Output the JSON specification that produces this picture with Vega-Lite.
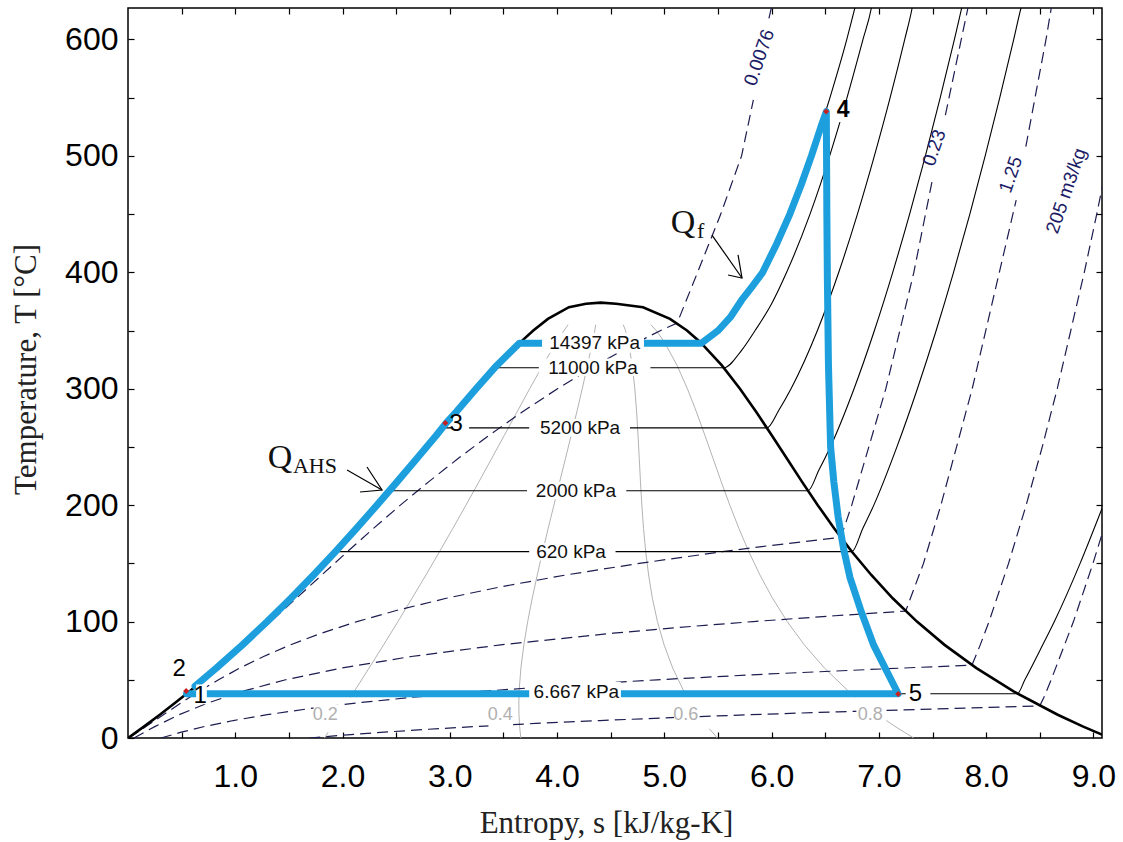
{
"$schema":"https://vega.github.io/schema/vega-lite/v6.json",
"width":974,"height":730,
"autosize":{"type":"none"},
"padding":{"left":128,"top":8,"right":21,"bottom":104},
"background":"white",
"config":{"view":{"stroke":"black","strokeWidth":1.5},"axis":{"grid":false,"domain":false,"tickColor":"black","tickWidth":1.2,"tickSize":-6}},
"datasets":{
"lines":[
{"k":"q","g":"q2a","s":1.8311,"T":0.01},{"k":"q","g":"q2a","s":1.866,"T":5},
{"k":"q","g":"q2b","s":2.075,"T":35},{"k":"q","g":"q2b","s":2.109,"T":40},{"k":"q","g":"q2b","s":2.2469,"T":60},{"k":"q","g":"q2b","s":2.3827,"T":80},{"k":"q","g":"q2b","s":2.5165,"T":100},{"k":"q","g":"q2b","s":2.6481,"T":120},{"k":"q","g":"q2b","s":2.7772,"T":140},{"k":"q","g":"q2b","s":2.9038,"T":160},{"k":"q","g":"q2b","s":3.0282,"T":180},{"k":"q","g":"q2b","s":3.1504,"T":200},{"k":"q","g":"q2b","s":3.271,"T":220},{"k":"q","g":"q2b","s":3.3901,"T":240},{"k":"q","g":"q2b","s":3.5081,"T":260},{"k":"q","g":"q2b","s":3.6262,"T":280},{"k":"q","g":"q2b","s":3.7448,"T":300},{"k":"q","g":"q2b","s":3.8656,"T":320},{"k":"q","g":"q2b","s":3.9947,"T":340},{"k":"q","g":"q2b","s":4.0649,"T":350},{"k":"q","g":"q2b","s":4.103,"T":355},
{"k":"q","g":"q4","s":3.6622,"T":0.01},{"k":"q","g":"q4","s":3.6506,"T":10},{"k":"q","g":"q4","s":3.6448,"T":20},{"k":"q","g":"q4","s":3.6435,"T":30},{"k":"q","g":"q4","s":3.6457,"T":40},{"k":"q","g":"q4","s":3.6626,"T":60},{"k":"q","g":"q4","s":3.6901,"T":80},{"k":"q","g":"q4","s":3.7261,"T":100},{"k":"q","g":"q4","s":3.7683,"T":120},{"k":"q","g":"q4","s":3.8152,"T":140},{"k":"q","g":"q4","s":3.8651,"T":160},{"k":"q","g":"q4","s":3.9171,"T":180},{"k":"q","g":"q4","s":3.9704,"T":200},{"k":"q","g":"q4","s":4.0242,"T":220},{"k":"q","g":"q4","s":4.0782,"T":240},{"k":"q","g":"q4","s":4.1313,"T":260},{"k":"q","g":"q4","s":4.1839,"T":280},{"k":"q","g":"q4","s":4.2348,"T":300},{"k":"q","g":"q4","s":4.2833,"T":320},{"k":"q","g":"q4","s":4.3299,"T":340},{"k":"q","g":"q4","s":4.3514,"T":350},{"k":"q","g":"q4","s":4.36,"T":355},
{"k":"q","g":"q6a","s":5.4933,"T":0.01},{"k":"q","g":"q6a","s":5.42,"T":8},
{"k":"q","g":"q6b","s":5.19,"T":38},{"k":"q","g":"q6b","s":5.1823,"T":40},{"k":"q","g":"q6b","s":5.0782,"T":60},{"k":"q","g":"q6b","s":4.9974,"T":80},{"k":"q","g":"q6b","s":4.9357,"T":100},{"k":"q","g":"q6b","s":4.8885,"T":120},{"k":"q","g":"q6b","s":4.8533,"T":140},{"k":"q","g":"q6b","s":4.8263,"T":160},{"k":"q","g":"q6b","s":4.8061,"T":180},{"k":"q","g":"q6b","s":4.7903,"T":200},{"k":"q","g":"q6b","s":4.7775,"T":220},{"k":"q","g":"q6b","s":4.7663,"T":240},{"k":"q","g":"q6b","s":4.7546,"T":260},{"k":"q","g":"q6b","s":4.7417,"T":280},{"k":"q","g":"q6b","s":4.7249,"T":300},{"k":"q","g":"q6b","s":4.7009,"T":320},{"k":"q","g":"q6b","s":4.6652,"T":340},{"k":"q","g":"q6b","s":4.638,"T":350},{"k":"q","g":"q6b","s":4.617,"T":355},
{"k":"q","g":"q8a","s":7.3244,"T":0.01},{"k":"q","g":"q8a","s":7.237,"T":5},{"k":"q","g":"q8a","s":7.1501,"T":10},{"k":"q","g":"q8a","s":7.07,"T":15},
{"k":"q","g":"q8b","s":6.78,"T":35},{"k":"q","g":"q8b","s":6.719,"T":40},{"k":"q","g":"q8b","s":6.4939,"T":60},{"k":"q","g":"q8b","s":6.3048,"T":80},{"k":"q","g":"q8b","s":6.1453,"T":100},{"k":"q","g":"q8b","s":6.0087,"T":120},{"k":"q","g":"q8b","s":5.8913,"T":140},{"k":"q","g":"q8b","s":5.7876,"T":160},{"k":"q","g":"q8b","s":5.695,"T":180},{"k":"q","g":"q8b","s":5.6103,"T":200},{"k":"q","g":"q8b","s":5.5307,"T":220},{"k":"q","g":"q8b","s":5.4544,"T":240},{"k":"q","g":"q8b","s":5.3778,"T":260},{"k":"q","g":"q8b","s":5.2994,"T":280},{"k":"q","g":"q8b","s":5.2149,"T":300},{"k":"q","g":"q8b","s":5.1186,"T":320},{"k":"q","g":"q8b","s":5.0004,"T":340},{"k":"q","g":"q8b","s":4.9245,"T":350},{"k":"q","g":"q8b","s":4.874,"T":355},

{"k":"v","g":"v1a","s":0,"T":0.01},{"k":"v","g":"v1a","s":0.2976,"T":20},{"k":"v","g":"v1a","s":0.575,"T":40},{"k":"v","g":"v1a","s":0.8373,"T":60},{"k":"v","g":"v1a","s":1.0878,"T":80},{"k":"v","g":"v1a","s":1.3307,"T":100},{"k":"v","g":"v1a","s":1.569,"T":120},{"k":"v","g":"v1a","s":1.806,"T":140},{"k":"v","g":"v1a","s":2.045,"T":160},{"k":"v","g":"v1a","s":2.288,"T":180},{"k":"v","g":"v1a","s":2.539,"T":200},{"k":"v","g":"v1a","s":2.802,"T":220},{"k":"v","g":"v1a","s":3.077,"T":240},{"k":"v","g":"v1a","s":3.366,"T":260},{"k":"v","g":"v1a","s":3.675,"T":280},{"k":"v","g":"v1a","s":4.004,"T":300},{"k":"v","g":"v1a","s":4.358,"T":320},{"k":"v","g":"v1a","s":4.75,"T":340},{"k":"v","g":"v1a","s":4.966,"T":350},{"k":"v","g":"v1a","s":5.12,"T":356.5},{"k":"v","g":"v1a","s":5.31,"T":400},{"k":"v","g":"v1a","s":5.526,"T":450},{"k":"v","g":"v1a","s":5.72,"T":500},{"k":"v","g":"v1a","s":5.83,"T":548},
{"k":"v","g":"v1b","s":5.975,"T":618},{"k":"v","g":"v1b","s":6.01,"T":632},
{"k":"v","g":"v2a","s":0.01,"T":0.01},{"k":"v","g":"v2a","s":0.17,"T":10},{"k":"v","g":"v2a","s":0.33,"T":20},{"k":"v","g":"v2a","s":0.493,"T":30},{"k":"v","g":"v2a","s":0.66,"T":40},{"k":"v","g":"v2a","s":0.844,"T":50},{"k":"v","g":"v2a","s":1.04,"T":60},{"k":"v","g":"v2a","s":1.264,"T":70},{"k":"v","g":"v2a","s":1.515,"T":80},{"k":"v","g":"v2a","s":1.803,"T":90},{"k":"v","g":"v2a","s":2.135,"T":100},{"k":"v","g":"v2a","s":2.52,"T":110},{"k":"v","g":"v2a","s":2.967,"T":120},{"k":"v","g":"v2a","s":3.484,"T":130},{"k":"v","g":"v2a","s":4.08,"T":140},{"k":"v","g":"v2a","s":4.766,"T":150},{"k":"v","g":"v2a","s":5.54,"T":160},{"k":"v","g":"v2a","s":5.96,"T":165},{"k":"v","g":"v2a","s":6.646,"T":172.4},{"k":"v","g":"v2a","s":6.747,"T":200},{"k":"v","g":"v2a","s":7.065,"T":300},{"k":"v","g":"v2a","s":7.326,"T":400},{"k":"v","g":"v2a","s":7.5,"T":480},
{"k":"v","g":"v2b","s":7.62,"T":535},{"k":"v","g":"v2b","s":7.768,"T":600},{"k":"v","g":"v2b","s":7.83,"T":627},{"k":"v","g":"v2b","s":7.84,"T":632},
{"k":"v","g":"v3a","s":0.0555,"T":0.01},{"k":"v","g":"v3a","s":0.254,"T":10},{"k":"v","g":"v3a","s":0.477,"T":20},{"k":"v","g":"v3a","s":0.741,"T":30},{"k":"v","g":"v3a","s":1.064,"T":40},{"k":"v","g":"v3a","s":1.469,"T":50},{"k":"v","g":"v3a","s":1.985,"T":60},{"k":"v","g":"v3a","s":2.64,"T":70},{"k":"v","g":"v3a","s":3.474,"T":80},{"k":"v","g":"v3a","s":4.522,"T":90},{"k":"v","g":"v3a","s":5.139,"T":95},{"k":"v","g":"v3a","s":5.828,"T":100},{"k":"v","g":"v3a","s":6.59,"T":105},{"k":"v","g":"v3a","s":7.25,"T":109},{"k":"v","g":"v3a","s":7.294,"T":120},{"k":"v","g":"v3a","s":7.416,"T":150},{"k":"v","g":"v3a","s":7.578,"T":200},{"k":"v","g":"v3a","s":7.87,"T":300},{"k":"v","g":"v3a","s":8.123,"T":400},{"k":"v","g":"v3a","s":8.28,"T":462},
{"k":"v","g":"v3b","s":8.37,"T":508},{"k":"v","g":"v3b","s":8.558,"T":600},{"k":"v","g":"v3b","s":8.607,"T":627},{"k":"v","g":"v3b","s":8.61,"T":632},
{"k":"v","g":"v4","s":0.307,"T":0.01},{"k":"v","g":"v4","s":0.496,"T":5},{"k":"v","g":"v4","s":0.719,"T":10},{"k":"v","g":"v4","s":0.982,"T":15},{"k":"v","g":"v4","s":1.297,"T":20},{"k":"v","g":"v4","s":1.671,"T":25},{"k":"v","g":"v4","s":2.12,"T":30},{"k":"v","g":"v4","s":2.654,"T":35},{"k":"v","g":"v4","s":3.288,"T":40},{"k":"v","g":"v4","s":4.043,"T":45},{"k":"v","g":"v4","s":4.932,"T":50},{"k":"v","g":"v4","s":5.977,"T":55},{"k":"v","g":"v4","s":7.2,"T":60},{"k":"v","g":"v4","s":7.868,"T":62.6},{"k":"v","g":"v4","s":7.945,"T":80},{"k":"v","g":"v4","s":8.027,"T":100},{"k":"v","g":"v4","s":8.209,"T":150},{"k":"v","g":"v4","s":8.373,"T":200},{"k":"v","g":"v4","s":8.523,"T":250},{"k":"v","g":"v4","s":8.663,"T":300},{"k":"v","g":"v4","s":8.915,"T":400},{"k":"v","g":"v4","s":9.031,"T":450},{"k":"v","g":"v4","s":9.142,"T":500},
{"k":"v","g":"v5","s":1.69,"T":0.01},{"k":"v","g":"v5","s":2.01,"T":2.5},{"k":"v","g":"v5","s":2.385,"T":5},{"k":"v","g":"v5","s":2.8,"T":7.5},{"k":"v","g":"v5","s":3.275,"T":10},{"k":"v","g":"v5","s":3.8,"T":12.5},{"k":"v","g":"v5","s":4.4,"T":15},{"k":"v","g":"v5","s":5.06,"T":17.5},{"k":"v","g":"v5","s":5.805,"T":20},{"k":"v","g":"v5","s":6.62,"T":22.5},{"k":"v","g":"v5","s":7.55,"T":25},{"k":"v","g":"v5","s":8.5,"T":27.6},{"k":"v","g":"v5","s":8.539,"T":35},{"k":"v","g":"v5","s":8.606,"T":50},{"k":"v","g":"v5","s":8.814,"T":100},{"k":"v","g":"v5","s":8.996,"T":150},{"k":"v","g":"v5","s":9.08,"T":175},{"k":"v","g":"v5","s":9.15,"T":195},

{"k":"p","g":"p1","s":3.648,"T":339},{"k":"p","g":"p1","s":5.345,"T":339},{"k":"p","g":"p1","s":5.502,"T":350},{"k":"p","g":"p1","s":5.62,"T":362},{"k":"p","g":"p1","s":5.72,"T":376},{"k":"p","g":"p1","s":5.82,"T":388},{"k":"p","g":"p1","s":5.917,"T":400},{"k":"p","g":"p1","s":6.05,"T":425},{"k":"p","g":"p1","s":6.17,"T":450},{"k":"p","g":"p1","s":6.275,"T":475},{"k":"p","g":"p1","s":6.371,"T":500},{"k":"p","g":"p1","s":6.46,"T":525},{"k":"p","g":"p1","s":6.544,"T":550},{"k":"p","g":"p1","s":6.701,"T":600},{"k":"p","g":"p1","s":6.776,"T":627},{"k":"p","g":"p1","s":6.79,"T":632},
{"k":"p","g":"p2","s":3.429,"T":318},{"k":"p","g":"p2","s":5.553,"T":318},{"k":"p","g":"p2","s":5.72,"T":333},{"k":"p","g":"p2","s":5.846,"T":350},{"k":"p","g":"p2","s":6.0,"T":373},{"k":"p","g":"p2","s":6.14,"T":400},{"k":"p","g":"p2","s":6.358,"T":450},{"k":"p","g":"p2","s":6.541,"T":500},{"k":"p","g":"p2","s":6.703,"T":550},{"k":"p","g":"p2","s":6.852,"T":600},{"k":"p","g":"p2","s":6.93,"T":627},{"k":"p","g":"p2","s":6.94,"T":632},
{"k":"p","g":"p3","s":2.944,"T":266.4},{"k":"p","g":"p3","s":5.955,"T":266.4},{"k":"p","g":"p3","s":6.07,"T":282},{"k":"p","g":"p3","s":6.181,"T":300},{"k":"p","g":"p3","s":6.427,"T":350},{"k":"p","g":"p3","s":6.626,"T":400},{"k":"p","g":"p3","s":6.8,"T":450},{"k":"p","g":"p3","s":6.958,"T":500},{"k":"p","g":"p3","s":7.105,"T":550},{"k":"p","g":"p3","s":7.241,"T":600},{"k":"p","g":"p3","s":7.31,"T":627},{"k":"p","g":"p3","s":7.32,"T":632},
{"k":"p","g":"p4","s":2.447,"T":212.4},{"k":"p","g":"p4","s":6.339,"T":212.4},{"k":"p","g":"p4","s":6.44,"T":230},{"k":"p","g":"p4","s":6.5475,"T":250},{"k":"p","g":"p4","s":6.7684,"T":300},{"k":"p","g":"p4","s":6.9583,"T":350},{"k":"p","g":"p4","s":7.1292,"T":400},{"k":"p","g":"p4","s":7.2866,"T":450},{"k":"p","g":"p4","s":7.4337,"T":500},{"k":"p","g":"p4","s":7.572,"T":550},{"k":"p","g":"p4","s":7.7043,"T":600},{"k":"p","g":"p4","s":7.772,"T":627},{"k":"p","g":"p4","s":7.785,"T":632},
{"k":"p","g":"p5","s":1.943,"T":160.1},{"k":"p","g":"p5","s":6.748,"T":160.1},{"k":"p","g":"p5","s":6.85,"T":180},{"k":"p","g":"p5","s":6.953,"T":200},{"k":"p","g":"p5","s":7.168,"T":250},{"k":"p","g":"p5","s":7.359,"T":300},{"k":"p","g":"p5","s":7.534,"T":350},{"k":"p","g":"p5","s":7.696,"T":400},{"k":"p","g":"p5","s":7.848,"T":450},{"k":"p","g":"p5","s":7.991,"T":500},{"k":"p","g":"p5","s":8.127,"T":550},{"k":"p","g":"p5","s":8.257,"T":600},{"k":"p","g":"p5","s":8.325,"T":627},{"k":"p","g":"p5","s":8.34,"T":632},
{"k":"p","g":"p6","s":0.546,"T":38},{"k":"p","g":"p6","s":8.29,"T":38},{"k":"p","g":"p6","s":8.361,"T":50},{"k":"p","g":"p6","s":8.5,"T":75},{"k":"p","g":"p6","s":8.636,"T":100},{"k":"p","g":"p6","s":8.876,"T":150},{"k":"p","g":"p6","s":9.092,"T":200},

{"k":"d","g":"dome","s":0,"T":0.01},{"k":"d","g":"dome","s":0.1511,"T":10},{"k":"d","g":"dome","s":0.2966,"T":20},{"k":"d","g":"dome","s":0.4369,"T":30},{"k":"d","g":"dome","s":0.5724,"T":40},{"k":"d","g":"dome","s":0.8312,"T":60},{"k":"d","g":"dome","s":1.0753,"T":80},{"k":"d","g":"dome","s":1.3069,"T":100},{"k":"d","g":"dome","s":1.5279,"T":120},{"k":"d","g":"dome","s":1.7392,"T":140},{"k":"d","g":"dome","s":1.9426,"T":160},{"k":"d","g":"dome","s":2.1392,"T":180},{"k":"d","g":"dome","s":2.3305,"T":200},{"k":"d","g":"dome","s":2.5177,"T":220},{"k":"d","g":"dome","s":2.702,"T":240},{"k":"d","g":"dome","s":2.8849,"T":260},{"k":"d","g":"dome","s":3.0685,"T":280},{"k":"d","g":"dome","s":3.2548,"T":300},{"k":"d","g":"dome","s":3.448,"T":320},{"k":"d","g":"dome","s":3.6594,"T":340},{"k":"d","g":"dome","s":3.7784,"T":350},{"k":"d","g":"dome","s":3.9147,"T":360},{"k":"d","g":"dome","s":4.1106,"T":370},{"k":"d","g":"dome","s":4.27,"T":373},{"k":"d","g":"dome","s":4.407,"T":373.95},{"k":"d","g":"dome","s":4.55,"T":373},{"k":"d","g":"dome","s":4.8012,"T":370},{"k":"d","g":"dome","s":5.0526,"T":360},{"k":"d","g":"dome","s":5.211,"T":350},{"k":"d","g":"dome","s":5.3357,"T":340},{"k":"d","g":"dome","s":5.5362,"T":320},{"k":"d","g":"dome","s":5.7049,"T":300},{"k":"d","g":"dome","s":5.8571,"T":280},{"k":"d","g":"dome","s":6.001,"T":260},{"k":"d","g":"dome","s":6.1425,"T":240},{"k":"d","g":"dome","s":6.284,"T":220},{"k":"d","g":"dome","s":6.4302,"T":200},{"k":"d","g":"dome","s":6.584,"T":180},{"k":"d","g":"dome","s":6.7488,"T":160},{"k":"d","g":"dome","s":6.9293,"T":140},{"k":"d","g":"dome","s":7.1289,"T":120},{"k":"d","g":"dome","s":7.3549,"T":100},{"k":"d","g":"dome","s":7.6122,"T":80},{"k":"d","g":"dome","s":7.9096,"T":60},{"k":"d","g":"dome","s":8.2556,"T":40},{"k":"d","g":"dome","s":8.6671,"T":20},{"k":"d","g":"dome","s":8.8999,"T":10},{"k":"d","g":"dome","s":9.0249,"T":5},{"k":"d","g":"dome","s":9.1555,"T":0.01},

{"k":"c","g":"cyc","s":0.625,"T":44.5},{"k":"c","g":"cyc","s":0.823,"T":60},{"k":"c","g":"cyc","s":1.067,"T":80},{"k":"c","g":"cyc","s":1.298,"T":100},{"k":"c","g":"cyc","s":1.519,"T":120},{"k":"c","g":"cyc","s":1.73,"T":140},{"k":"c","g":"cyc","s":1.934,"T":160},{"k":"c","g":"cyc","s":2.13,"T":180},{"k":"c","g":"cyc","s":2.321,"T":200},{"k":"c","g":"cyc","s":2.508,"T":220},{"k":"c","g":"cyc","s":2.693,"T":240},{"k":"c","g":"cyc","s":2.875,"T":260},{"k":"c","g":"cyc","s":2.965,"T":270.5},{"k":"c","g":"cyc","s":3.059,"T":280},{"k":"c","g":"cyc","s":3.245,"T":300},{"k":"c","g":"cyc","s":3.438,"T":320},{"k":"c","g":"cyc","s":3.648,"T":339},{"k":"c","g":"cyc","s":5.345,"T":339},{"k":"c","g":"cyc","s":5.502,"T":350},{"k":"c","g":"cyc","s":5.62,"T":362},{"k":"c","g":"cyc","s":5.72,"T":376},{"k":"c","g":"cyc","s":5.82,"T":388},{"k":"c","g":"cyc","s":5.917,"T":400},{"k":"c","g":"cyc","s":6.05,"T":425},{"k":"c","g":"cyc","s":6.17,"T":450},{"k":"c","g":"cyc","s":6.275,"T":475},{"k":"c","g":"cyc","s":6.371,"T":500},{"k":"c","g":"cyc","s":6.46,"T":525},{"k":"c","g":"cyc","s":6.51,"T":538},{"k":"c","g":"cyc","s":6.515,"T":450},{"k":"c","g":"cyc","s":6.52,"T":393},{"k":"c","g":"cyc","s":6.53,"T":320},{"k":"c","g":"cyc","s":6.55,"T":250},{"k":"c","g":"cyc","s":6.58,"T":220},{"k":"c","g":"cyc","s":6.62,"T":190},{"k":"c","g":"cyc","s":6.67,"T":163},{"k":"c","g":"cyc","s":6.73,"T":138},{"k":"c","g":"cyc","s":6.83,"T":110},{"k":"c","g":"cyc","s":6.95,"T":80},{"k":"c","g":"cyc","s":7.07,"T":58},{"k":"c","g":"cyc","s":7.18,"T":38},{"k":"c","g":"cyc","s":0.546,"T":38},

{"k":"a","g":"a1s","s":5.444,"T":432},{"k":"a","g":"a1s","s":5.724,"T":395.1},
{"k":"a","g":"a1h","s":5.687,"T":414.9},{"k":"a","g":"a1h","s":5.724,"T":395.1},{"k":"a","g":"a1h","s":5.594,"T":397.7},
{"k":"a","g":"a2s","s":2.042,"T":230.2},{"k":"a","g":"a2s","s":2.368,"T":213},
{"k":"a","g":"a2h","s":2.228,"T":232.8},{"k":"a","g":"a2h","s":2.368,"T":213},{"k":"a","g":"a2h","s":2.163,"T":211.3}
],
"boxes":[
{"s1":3.86,"s2":4.81,"T1":331,"T2":348},{"s1":3.83,"s2":4.87,"T1":311,"T2":326},{"s1":3.74,"s2":4.68,"T1":259,"T2":274},{"s1":3.72,"s2":4.645,"T1":205,"T2":220},{"s1":3.74,"s2":4.545,"T1":152.5,"T2":167.5},{"s1":3.74,"s2":4.595,"T1":31,"T2":48},{"s1":3.03,"s2":3.18,"T1":261,"T2":278},{"s1":7.25,"s2":7.48,"T1":31,"T2":45},{"s1":0.635,"s2":0.735,"T1":29,"T2":46},{"s1":6.6,"s2":6.74,"T1":529,"T2":548},{"s1":1.73,"s2":1.97,"T1":9,"T2":29},{"s1":3.36,"s2":3.59,"T1":9,"T2":29},{"s1":5.09,"s2":5.32,"T1":9,"T2":29},{"s1":6.79,"s2":7.03,"T1":9,"T2":29}
],
"pts":[{"s":0.542,"T":40.4},{"s":2.958,"T":270.5},{"s":6.508,"T":538},{"s":7.18,"T":37.8}],
"txt":[
{"k":"p","s":4.35,"T":339,"t":"14397 kPa"},{"k":"p","s":4.335,"T":318,"t":"11000 kPa"},{"k":"p","s":4.214,"T":266.4,"t":"5200 kPa"},{"k":"p","s":4.176,"T":212.4,"t":"2000 kPa"},{"k":"p","s":4.13,"T":160.1,"t":"620 kPa"},{"k":"p","s":4.18,"T":39.5,"t":"6.667 kPa"},
{"k":"st","s":0.672,"T":36.5,"t":"1"},{"k":"st","s":0.476,"T":59.5,"t":"2"},{"k":"st","s":3.06,"T":269.5,"t":"3"},{"k":"stb","s":6.667,"T":539,"t":"4"},{"k":"st","s":7.34,"T":38,"t":"5"},
{"k":"ql","s":1.84,"T":19.5,"t":"0.2"},{"k":"ql","s":3.47,"T":20,"t":"0.4"},{"k":"ql","s":5.2,"T":20,"t":"0.6"},{"k":"ql","s":6.92,"T":20,"t":"0.8"},
{"k":"vl","s":5.885,"T":584.5,"t":"0.0076"},{"k":"vl","s":7.516,"T":507,"t":"0.23"},{"k":"vl","s":8.23,"T":484,"t":"1.25"},{"k":"vl","s":8.747,"T":470,"t":"205 m3/kg"},
{"k":"Q","s":5.174,"T":433.7,"t":"Q"},{"k":"Q","s":1.417,"T":231.9,"t":"Q"},
{"k":"sub","s":5.304,"T":429.4,"t":"f"},{"k":"sub","s":1.538,"T":227.6,"t":"AHS"}
]
},
"encoding":{
"x":{"field":"s","type":"quantitative","scale":{"domain":[0,9.08],"nice":false,"zero":false},"axis":null},
"y":{"field":"T","type":"quantitative","scale":{"domain":[0,627],"nice":false,"zero":false},"axis":null}
},
"resolve":{"axis":{"x":"independent","y":"independent"}},
"layer":[
{"data":{"name":"lines"},"transform":[{"filter":"datum.k=='q'"}],
"mark":{"type":"line","stroke":"#b3b3b3","strokeWidth":1,"clip":true},
"encoding":{
"x":{"field":"s","type":"quantitative","scale":{"domain":[0,9.08],"nice":false,"zero":false},
"axis":{"orient":"bottom","values":[0.5,1,1.5,2,2.5,3,3.5,4,4.5,5,5.5,6,6.5,7,7.5,8,8.5,9],"labelExpr":"datum.value % 1 == 0 ? format(datum.value, '.1f') : ''","labelFont":"Liberation Sans","labelFontSize":32,"labelColor":"black","labelPadding":29,"labelFlush":false,"labelOverlap":false,"title":"Entropy, s [kJ/kg-K]","titleFont":"Liberation Serif","titleFontSize":31,"titleFontWeight":"normal","titleColor":"#222222","titleX":478,"titleY":94,"titleBaseline":"alphabetic","titleAlign":"center","titleAnchor":null}},
"y":{"field":"T","type":"quantitative","scale":{"domain":[0,627],"nice":false,"zero":false},
"axis":{"orient":"left","values":[0,50,100,150,200,250,300,350,400,450,500,550,600],"labelExpr":"datum.value % 100 == 0 ? datum.label : ''","labelFont":"Liberation Sans","labelFontSize":32,"labelColor":"black","labelPadding":16,"labelFlush":false,"labelOverlap":false,"title":"Temperature, T [°C]","titleFont":"Liberation Serif","titleFontSize":31,"titleFontWeight":"normal","titleColor":"#222222","titleAngle":-90,"titleX":-93,"titleY":361,"titleBaseline":"alphabetic","titleAlign":"center","titleAnchor":null}},
"detail":{"field":"g"},"order":{"value":null}}},
{"data":{"name":"lines"},"transform":[{"filter":"datum.k=='v'"}],
"mark":{"type":"line","stroke":"#1c1c50","strokeWidth":1.2,"strokeDash":[11,6],"clip":true},
"encoding":{
"x":{"field":"s","type":"quantitative","scale":{"domain":[0,9.08],"nice":false,"zero":false},
"axis":{"orient":"top","values":[0.5,1,1.5,2,2.5,3,3.5,4,4.5,5,5.5,6,6.5,7,7.5,8,8.5,9],"labels":false,"title":null}},
"y":{"field":"T","type":"quantitative","scale":{"domain":[0,627],"nice":false,"zero":false},
"axis":{"orient":"right","values":[50,100,150,200,250,300,350,400,450,500,550,600],"labels":false,"title":null}},
"detail":{"field":"g"},"order":{"value":null}}},
{"data":{"name":"lines"},"transform":[{"filter":"datum.k=='p'"}],
"mark":{"type":"line","stroke":"#000000","strokeWidth":1.1,"clip":true,"interpolate":"monotone"},
"encoding":{"detail":{"field":"g"},"order":{"value":null}}},
{"data":{"name":"lines"},"transform":[{"filter":"datum.k=='d'"}],
"mark":{"type":"line","stroke":"#000000","strokeWidth":2.6,"clip":true},
"encoding":{"detail":{"field":"g"},"order":{"value":null}}},
{"data":{"name":"lines"},"transform":[{"filter":"datum.k=='c'"}],
"mark":{"type":"line","stroke":"#1C9FDC","strokeWidth":7,"strokeCap":"round","strokeJoin":"round","clip":true},
"encoding":{"detail":{"field":"g"},"order":{"value":null}}},
{"data":{"name":"boxes"},
"mark":{"type":"rect","fill":"white","stroke":null},
"encoding":{"x":{"field":"s1","type":"quantitative","scale":{"domain":[0,9.08],"nice":false,"zero":false},"axis":null},"x2":{"field":"s2"},"y":{"field":"T1","type":"quantitative","scale":{"domain":[0,627],"nice":false,"zero":false},"axis":null},"y2":{"field":"T2"}}},
{"data":{"name":"lines"},"transform":[{"filter":"datum.k=='a'"}],
"mark":{"type":"line","stroke":"#000000","strokeWidth":1.2,"clip":true},
"encoding":{"detail":{"field":"g"},"order":{"value":null}}},
{"data":{"name":"pts"},
"mark":{"type":"point","shape":"diamond","filled":true,"size":36,"color":"#C8201E","opacity":1}},
{"data":{"name":"txt"},"transform":[{"filter":"datum.k=='p'"}],
"mark":{"type":"text","font":"Liberation Sans","fontSize":19,"color":"#111111","align":"center","baseline":"middle"},
"encoding":{"text":{"field":"t"}}},
{"data":{"name":"txt"},"transform":[{"filter":"datum.k=='st'"}],
"mark":{"type":"text","font":"Liberation Sans","fontSize":24,"color":"#000000","align":"center","baseline":"middle"},
"encoding":{"text":{"field":"t"}}},
{"data":{"name":"txt"},"transform":[{"filter":"datum.k=='stb'"}],
"mark":{"type":"text","font":"Liberation Sans","fontSize":23,"fontWeight":"bold","color":"#000000","align":"center","baseline":"middle"},
"encoding":{"text":{"field":"t"}}},
{"data":{"name":"txt"},"transform":[{"filter":"datum.k=='ql'"}],
"mark":{"type":"text","font":"Liberation Sans","fontSize":18,"color":"#b0b0b0","align":"center","baseline":"middle"},
"encoding":{"text":{"field":"t"}}},
{"data":{"name":"txt"},"transform":[{"filter":"datum.k=='vl'"}],
"mark":{"type":"text","font":"Liberation Sans","fontSize":19,"color":"#1c1c66","align":"center","baseline":"middle","angle":-71},
"encoding":{"text":{"field":"t"}}},
{"data":{"name":"txt"},"transform":[{"filter":"datum.k=='Q'"}],
"mark":{"type":"text","font":"Liberation Serif","fontSize":34,"color":"#111111","align":"center","baseline":"alphabetic"},
"encoding":{"text":{"field":"t"}}},
{"data":{"name":"txt"},"transform":[{"filter":"datum.k=='sub'"}],
"mark":{"type":"text","font":"Liberation Serif","fontSize":22,"color":"#111111","align":"left","baseline":"alphabetic"},
"encoding":{"text":{"field":"t"}}}
]
}
